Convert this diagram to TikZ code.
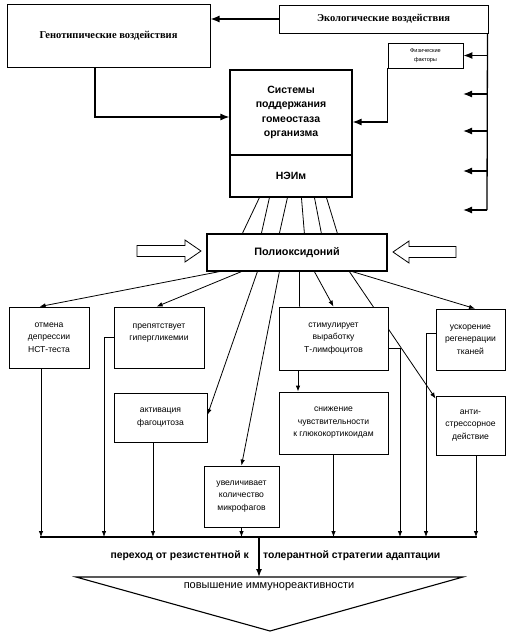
\documentclass[tikz,border=0pt]{standalone}
\usepackage{fontspec}
\setmainfont{Liberation Serif}
\setsansfont{Liberation Sans}
\usetikzlibrary{arrows.meta,backgrounds,calc}
\begin{document}
\begin{tikzpicture}[x=1pt,y=-1pt,
  box/.style={draw, line width=0.8pt, fill=white, inner sep=0pt, align=center,
    font=\sffamily\fontsize{8.6}{12.5}\selectfont},
  topbox/.style={draw, line width=1pt, fill=white, inner sep=0pt, align=center},
  big/.style={line width=1.3pt, -{Latex[length=9pt,width=7pt]}},
  thin/.style={line width=0.8pt},
  arr/.style={line width=0.8pt, -{Latex[length=6pt,width=4.5pt]}},
  hollow/.style={draw, line width=0.8pt, fill=white},
  lbl/.style={font=\sffamily\bfseries\fontsize{10.4}{12}\selectfont, inner sep=0pt}
]
\useasboundingbox (0,0) rectangle (513,635);

% top boxes
\node[topbox, minimum width=203pt, minimum height=63pt,
  font=\bfseries\fontsize{10.5}{12}\selectfont] (gen) at (108.5,35.5) {Генотипические воздействия};
\node[topbox, minimum width=209pt, minimum height=28pt,
  font=\bfseries\fontsize{10.5}{12}\selectfont] (eco) at (383.5,19) {Экологические воздействия};
\node[topbox, line width=0.9pt, minimum width=75pt, minimum height=25pt,
  font=\sffamily\fontsize{5.6}{9}\selectfont] (phys) at (425.5,55.5) {Физические\\факторы};
\node[topbox, line width=1.1pt, minimum width=122pt, minimum height=85pt,
  font=\sffamily\bfseries\fontsize{10.5}{14.2}\selectfont] (sys) at (291,112.5) {Системы\\поддержания\\гомеостаза\\организма};
\node[topbox, line width=1.1pt, minimum width=122pt, minimum height=42pt,
  font=\sffamily\bfseries\fontsize{10.5}{12}\selectfont] (neim) at (291,176) {НЭИм};
\node[topbox, line width=1.2pt, minimum width=180pt, minimum height=37pt,
  font=\sffamily\bfseries\fontsize{10.8}{12}\selectfont] (poly) at (297,252.5) {Полиоксидоний};

% lower boxes
\node[box, minimum width=80pt, minimum height=61pt] (b1) at (49,337.5) {отмена\\депрессии\\НСТ-теста};
\node[box, minimum width=90pt, minimum height=61pt] (b2) at (159,337.5) {препятствует\\гипергликемии\\[-1.5pt]};
\node[box, minimum width=93pt, minimum height=49pt] (b3) at (160.5,417.5) {активация\\фагоцитоза};
\node[box, minimum width=75pt, minimum height=61pt] (b4) at (241.5,496.5) {увеличивает\\количество\\микрофагов};
\node[box, minimum width=109pt, minimum height=63pt] (b5) at (333.5,338.5) {стимулирует\\выработку\\Т-лимфоцитов};
\node[box, minimum width=109pt, minimum height=62pt] (b6) at (333.5,423) {снижение\\чувствительности\\к глюкокортикоидам};
\node[box, minimum width=69pt, minimum height=61pt] (b7) at (470.5,339.5) {ускорение\\регенерации\\тканей};
\node[box, minimum width=69pt, minimum height=59pt] (b8) at (470.5,425.5) {анти-\\стрессорное\\действие};

% coordinates
\coordinate (rvb) at (487,210);
\coordinate (a2) at (463,94);
\coordinate (a3) at (463,131);
\coordinate (a4) at (463,171);
\coordinate (a5) at (463,210);
\coordinate (busL) at (40,537);
\coordinate (busR) at (477,537);
\coordinate (dn) at (259,537);
\coordinate (tl) at (76,577);
\coordinate (tr) at (463,577);
\coordinate (tb) at (270,631);

% top connectors
\draw[big] (eco.west) -- (eco.west -| gen.east);
\draw[line width=1.3pt] ([xshift=-1pt]eco.south east) -- (rvb);
\draw[big] (phys.east -| rvb) -- (phys.east);
\draw[big] (a2 -| rvb) -- (a2);
\draw[big] (a3 -| rvb) -- (a3);
\draw[big] (a4 -| rvb) -- (a4);
\draw[big] (rvb) -- (a5);
\draw[big] (phys.south west) |- ([yshift=-9.5pt]sys.east);
\draw[big] ([xshift=-13.5pt]gen.south) |- ([yshift=-4.5pt]sys.west);

% fan lines
\draw[thin] ([xshift=30pt]neim.south west) -- ([xshift=36pt]poly.north west);
\draw[thin] ([xshift=40pt]neim.south west) -- ([xshift=55pt]poly.north west);
\draw[thin] ([xshift=58pt]neim.south west) -- ([xshift=73pt]poly.north west);
\draw[thin] ([xshift=72pt]neim.south west) -- ([xshift=98pt]poly.north west);
\draw[thin] ([xshift=85pt]neim.south west) -- ([xshift=115pt]poly.north west);
\draw[thin] ([xshift=97pt]neim.south west) -- ([xshift=131pt]poly.north west);

% hollow arrows
\draw[hollow] (137,245.5) -- (185,245.5) -- (185,240) -- (201,251) -- (185,262) -- (185,256.5) -- (137,256.5) -- cycle;
\draw[hollow] (456,246.5) -- (409,246.5) -- (409,241) -- (393,252) -- (409,263) -- (409,257.5) -- (456,257.5) -- cycle;

% poly to boxes
\draw[arr] ([xshift=13pt]poly.south west) -- ([xshift=31pt]b1.north west);
\draw[arr] ([xshift=35pt]poly.south west) -- ([xshift=43pt]b2.north west);
\draw[arr] ([xshift=51pt]poly.south west) -- ([yshift=2.5pt]b3.east);
\draw[arr] ([xshift=73pt]poly.south west) -- (b4.north);
\draw[thin] ([xshift=93pt]poly.south west) -- ([xshift=21pt]b5.north west);
\draw[arr] ([xshift=108pt]poly.south west) -- (b5.north);
\begin{pgfonlayer}{background}
\fill[white] (0,0) rectangle (513,635);
\draw[arr] ([xshift=143pt]poly.south west) -- ([yshift=-3pt]b8.north west);
\end{pgfonlayer}
\draw[arr] ([xshift=146pt]poly.south west) -- ([xshift=4.5pt]b7.north);
\draw[arr] ([xshift=-35.5pt]b5.south) -- ([xshift=-35.5pt]b6.north);

% boxes to bus
\draw[line width=1.4pt] (busL) -- (busR);
\draw[arr] ([xshift=-8pt]b1.south) -- ([xshift=-8pt]b1.south |- busL);
\draw[arr] (b2.west) -| ([xshift=64pt]busL);
\draw[arr] ([xshift=-7.5pt]b3.south) -- ([xshift=-7.5pt]b3.south |- busL);
\draw[arr] (b4.south) -- (b4.south |- busL);
\draw[arr] (b6.south) -- (b6.south |- busL);
\draw[arr] ([yshift=-9.5pt]b5.east) -| ([xshift=360pt]busL);
\draw[arr] ([yshift=6.5pt]b7.west) -| ([xshift=386pt]busL);
\draw[arr] ([xshift=5.5pt]b8.south) -- ([xshift=5.5pt]b8.south |- busL);

% bottom
\draw[line width=1.4pt, -{Latex[length=8pt,width=6pt]}] (dn) -- (dn |- tl);
\node[lbl, anchor=east] (tL) at (249,556) {переход от резистентной к};
\node[lbl, anchor=west] (tR) at (263,556) {толерантной стратегии адаптации};
\draw[line width=1.1pt, fill=white] (tl) -- (tr) -- (tb) -- cycle;
\node[font=\sffamily\fontsize{11}{12}\selectfont, inner sep=0pt] (res) at (269,587) {повышение иммунореактивности};
\end{tikzpicture}
\end{document}
